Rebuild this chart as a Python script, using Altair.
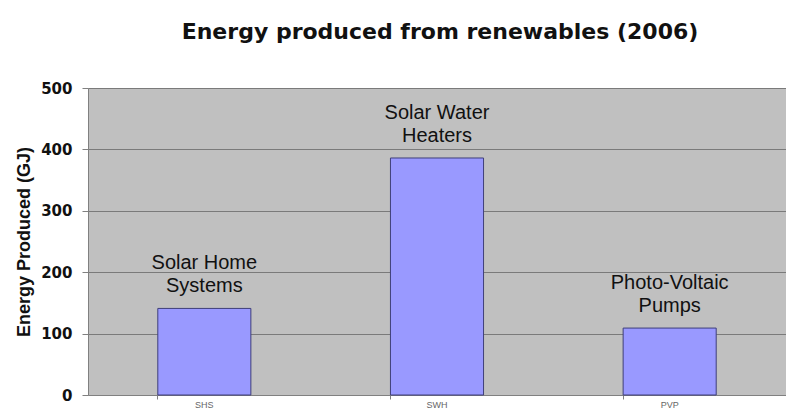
import altair as alt
import pandas as pd

codes = ["SHS", "SWH", "PVP"]
names = ["Solar Home\nSystems", "Solar Water\nHeaters", "Photo-Voltaic\nPumps"]
values = [141, 386, 109]

df = pd.DataFrame({"code": codes, "name": names, "value": values})

FONT = "Liberation Sans"
WIDE = "DejaVu Sans"

x = alt.X("code:N", sort=codes, title=None,
          scale=alt.Scale(paddingInner=0.6, paddingOuter=0.3),
          axis=alt.Axis(labelAngle=0, labelFontSize=9, labelColor="#666666",
                        labelFont=FONT, labelPadding=1, bandPosition=0,
                        tickColor="#808080", tickSize=4, domainColor="#808080",
                        grid=False))
y = alt.Y("value:Q", title="Energy Produced (GJ)",
          scale=alt.Scale(domain=[0, 500], nice=False),
          axis=alt.Axis(values=[0, 100, 200, 300, 400, 500], labelFontSize=15,
                        labelFontWeight="bold", labelColor="#111111", labelFont=WIDE,
                        labelPadding=10, tickSize=6, tickColor="#808080",
                        domainColor="#808080", gridColor="#7a7a7a", gridWidth=1,
                        titleFontSize=18, titleFontWeight="bold", titleFont=FONT,
                        titleColor="#111111", titlePadding=7))

bars = alt.Chart(df).mark_bar(color="#9999ff", stroke="#3f3f7a", strokeWidth=1).encode(x=x, y=y)

labels = alt.Chart(df).mark_text(font=FONT, fontSize=20, color="#111111",
                                 baseline="bottom", lineBreak="\n", lineHeight=23,
                                 dy=-35).encode(x=alt.X("code:N", sort=codes), y="value:Q",
                                                text="name:N")

chart = (bars + labels).properties(
    width=698, height=307,
    autosize=alt.AutoSizeParams(type="none"),
    padding={"left": 88, "top": 88, "right": 0, "bottom": 17},
    title=alt.TitleParams("Energy produced from renewables (2006)", font=WIDE,
                          fontSize=22, fontWeight="bold", color="#111111",
                          anchor="middle", offset=37, dx=3),
    background="white",
).configure_view(fill="#c0c0c0", stroke=None)

chart.save("out.html", embed_options={"renderer": "svg", "actions": False})
